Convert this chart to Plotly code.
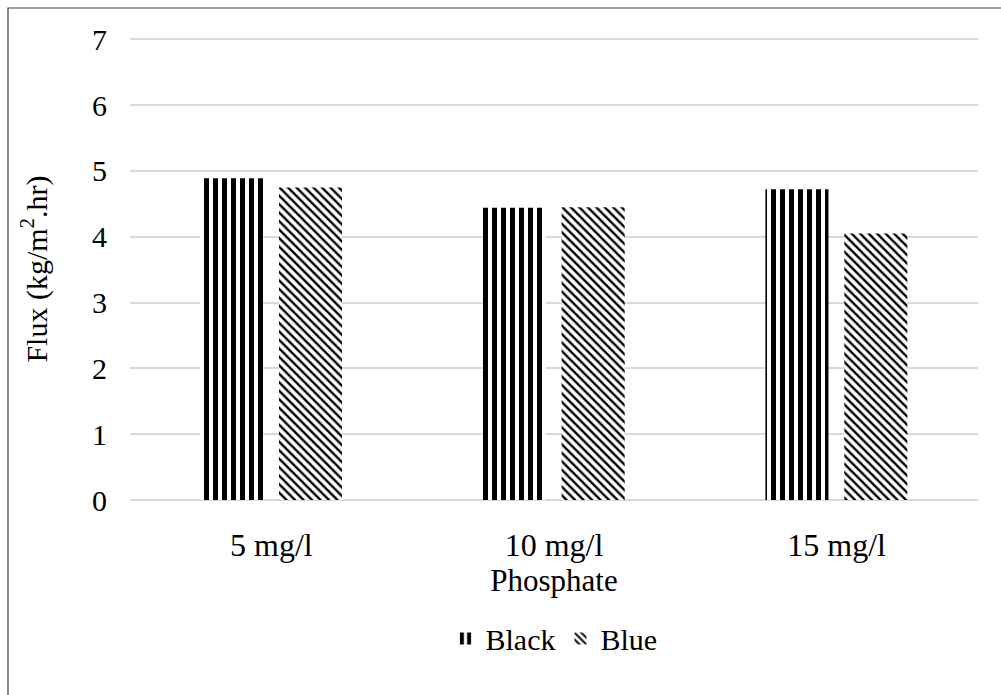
import plotly.graph_objects as go

categories = ["5 mg/l", "10 mg/l", "15 mg/l"]
black_vals = [4.89, 4.44, 4.72]
blue_vals = [4.75, 4.45, 4.05]
y_ticks = [0, 1, 2, 3, 4, 5, 6, 7]

FONT = "Liberation Serif, Times New Roman, serif"

fig = go.Figure()
fig.add_trace(go.Bar(
    x=categories, y=black_vals, name="Black",
    width=0.223, offset=-0.252,
    marker=dict(color="white", line=dict(width=0),
                pattern=dict(shape="|", fgcolor="black", bgcolor="white",
                             size=9, solidity=0.55, fgopacity=1)),
))
fig.add_trace(go.Bar(
    x=categories, y=blue_vals, name="Blue",
    width=0.223, offset=0.027,
    marker=dict(color="white", line=dict(width=0),
                pattern=dict(shape="\\", fgcolor="black", bgcolor="white",
                             size=6, solidity=0.4, fgopacity=1)),
))

YMAX = 7.02
top_px, zero_px = 38, 500
fig.update_layout(
    width=1001, height=695,
    margin=dict(l=130, r=23, t=top_px, b=695 - zero_px),
    paper_bgcolor="white", plot_bgcolor="white",
    font=dict(family=FONT, size=30, color="black"),
    barmode="overlay",
    showlegend=True,
    legend=dict(orientation="h", x=0.5, xanchor="center", y=-0.30, yanchor="middle",
                font=dict(family=FONT, size=30), itemwidth=30, tracegroupgap=0),
    xaxis=dict(
        title=dict(text="Phosphate", font=dict(family=FONT, size=31), standoff=4),
        showgrid=False, showline=False, ticks="", zeroline=False,
        tickfont=dict(family=FONT, size=32), ticklabelstandoff=23,
    ),
    yaxis=dict(
        title=dict(text="Flux (kg/m<sup>2</sup>.hr)", font=dict(family=FONT, size=30), standoff=35),
        range=[0, YMAX], tickvals=y_ticks, showgrid=True, gridcolor="#d9d9d9", gridwidth=1.5,
        zeroline=True, zerolinecolor="#d9d9d9", zerolinewidth=1.5,
        showline=False, ticks="", ticklabelstandoff=22,
        tickfont=dict(family=FONT, size=30),
    ),
    shapes=[dict(type="rect", xref="paper", yref="paper",
                 x0=(8 - 130) / 848, x1=2.0, y0=-1.0, y1=(zero_px - 8) / (zero_px - top_px),
                 line=dict(color="#404040", width=1.2), fillcolor="rgba(0,0,0,0)",
                 layer="below")],
)

fig.write_html("out.html")
